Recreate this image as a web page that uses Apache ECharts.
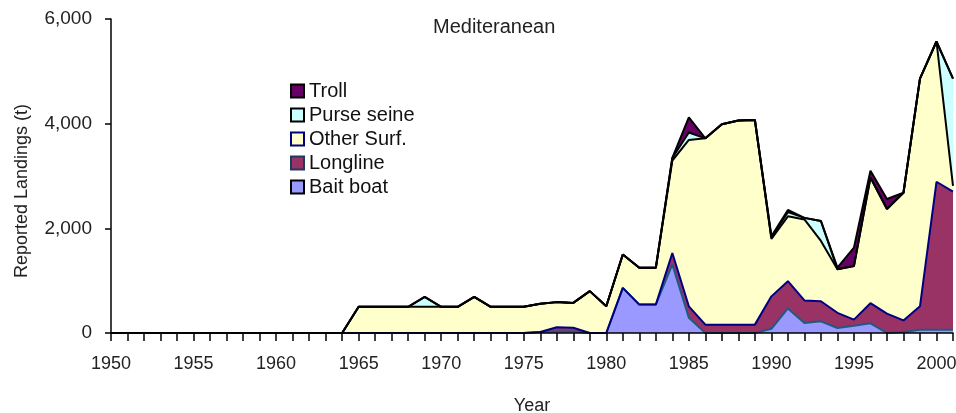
<!DOCTYPE html>
<html>
<head>
<meta charset="utf-8">
<title>Mediteranean</title>
<script src="https://cdn.jsdelivr.net/npm/echarts@6/dist/echarts.min.js"></script>
<style>
  html, body { margin: 0; padding: 0; background: #fff; }
  #chart { width: 956px; height: 413px; }
</style>
</head>
<body>
<div id="chart"></div>
<script>
// years on the x axis, 1950..2001
const years = [];
for (let y = 1950; y <= 2001; y++) years.push(String(y));

// reported landings (t), one value per year 1950..2001
const baitBoat = [
  0, 0, 0, 0, 0, 0, 0, 0, 0, 0, 0, 0, 0, 0,
  0, 0, 0, 0, 0, 0, 0, 0, 0, 0, 0, 0,
  20, 30, 30, 0,
  0, 862, 543, 543, 1310, 290, 0, 0, 0, 0,
  80, 470, 192, 223, 96, 140, 185, 0, 20, 60,
  60, 60
];
const longline = [
  0, 0, 0, 0, 0, 0, 0, 0, 0, 0, 0, 0, 0, 0,
  0, 0, 0, 0, 0, 0, 0, 0, 0, 0, 0, 0,
  0, 80, 70, 0,
  0, 0, 0, 0, 220, 220, 160, 160, 160, 160,
  620, 520, 430, 384, 290, 115, 385, 370, 220, 450,
  2830, 2640
];
const otherSurf = [
  0, 0, 0, 0, 0, 0, 0, 0, 0, 0, 0, 0, 0, 0,
  0, 500, 500, 500, 500, 500, 500, 500, 690, 500, 500, 500,
  540, 480, 475, 800,
  510, 638, 703, 703, 1765, 3180, 3560, 3830, 3900, 3910,
  1100, 1240, 1548, 1153, 834, 1025, 2400, 2000, 2440, 4350,
  2680, 110
];
const purseSeine = [
  0, 0, 0, 0, 0, 0, 0, 0, 0, 0, 0, 0, 0, 0,
  0, 0, 0, 0, 0, 190, 0, 0, 0, 0, 0, 0,
  0, 0, 0, 0,
  0, 0, 0, 0, 50, 140, 0, 0, 0, 0,
  30, 80, 30, 380, 0, 0, 0, 0, 0, 0,
  0, 2050
];
const troll = [
  0, 0, 0, 0, 0, 0, 0, 0, 0, 0, 0, 0, 0, 0,
  0, 0, 0, 0, 0, 0, 0, 0, 0, 0, 0, 0,
  0, 0, 0, 0,
  0, 0, 0, 0, 0, 290, 0, 0, 0, 0,
  20, 40, 0, 0, 30, 350, 130, 190, 0, 0,
  0, 0
];

const FONT = 'Liberation Sans, Arial, sans-serif';

// bottom of the stack first
const gears = [
  { name: 'Bait boat',   data: baitBoat,   fill: '#9999ff', line: '#1f5a80', border: '#000000' },
  { name: 'Longline',    data: longline,   fill: '#993366', line: '#000080', border: '#1f3a60' },
  { name: 'Other Surf.', data: otherSurf,  fill: '#ffffcc', line: '#000000', border: '#000080' },
  { name: 'Purse seine', data: purseSeine, fill: '#ccffff', line: '#000000', border: '#000000' },
  { name: 'Troll',       data: troll,      fill: '#660066', line: '#000000', border: '#000000' }
];

const chart = echarts.init(document.getElementById('chart'));

const option = {
  animation: false,
  backgroundColor: '#fff',
  title: {
    text: 'Mediteranean',
    left: 433,
    top: 17,
    padding: 0,
    textStyle: { fontFamily: FONT, fontSize: 20, fontWeight: 'normal', color: '#222' }
  },
  legend: {
    orient: 'vertical',
    left: 290,
    top: 81,
    padding: 0,
    itemGap: 4,
    itemWidth: 13,
    itemHeight: 13,
    icon: 'rect',
    textStyle: { fontFamily: FONT, fontSize: 20, color: '#111' },
    data: gears.slice().reverse().map(g => ({
      name: g.name,
      itemStyle: { color: g.fill, borderColor: g.border, borderWidth: 2 }
    }))
  },
  grid: { left: 111, right: 3, top: 19, bottom: 80, containLabel: false, outerBoundsMode: 'none' },
  xAxis: {
    type: 'category',
    data: years,
    boundaryGap: false,
    z: 10,
    name: 'Year',
    nameLocation: 'middle',
    nameGap: 64,
    nameTextStyle: { fontFamily: FONT, fontSize: 18, color: '#222' },
    axisLine: { lineStyle: { color: '#000', width: 1.5 } },
    axisTick: { interval: 0, length: 8, lineStyle: { color: '#000', width: 1.5 } },
    axisLabel: { interval: 4, margin: 22, fontFamily: FONT, fontSize: 18, color: '#222' },
    splitLine: { show: false }
  },
  yAxis: {
    type: 'value',
    min: 0,
    max: 6000,
    interval: 2000,
    z: 10,
    name: 'Reported Landings (t)',
    nameLocation: 'middle',
    nameGap: 80,
    nameTextStyle: { fontFamily: FONT, fontSize: 18, color: '#222', padding: [0, 30, 0, 0] },
    axisLine: { show: true, lineStyle: { color: '#000', width: 1.5 } },
    axisTick: { show: true, length: 6, lineStyle: { color: '#000', width: 1.5 } },
    axisLabel: {
      margin: 19, fontFamily: FONT, fontSize: 19, color: '#222',
      formatter: v => v.toLocaleString('en-US')
    },
    splitLine: { show: false }
  },
  series: gears.map(g => ({
    name: g.name,
    type: 'line',
    stack: 'total',
    data: g.data,
    symbol: 'none',
    showSymbol: false,
    itemStyle: { color: g.fill, borderColor: g.border },
    lineStyle: { color: g.line, width: 2 },
    areaStyle: { color: g.fill, opacity: 1 },
    emphasis: { disabled: true }
  }))
};

chart.setOption(option);
</script>
</body>
</html>
